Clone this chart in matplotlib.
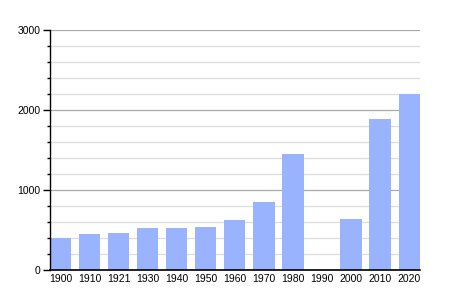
import matplotlib
matplotlib.use("Agg")
import matplotlib.pyplot as plt
from matplotlib.ticker import MultipleLocator

years = ["1900", "1910", "1921", "1930", "1940", "1950", "1960", "1970", "1980", "1990", "2000", "2010", "2020"]
population = [400, 455, 467, 529, 528, 540, 625, 854, 1450, None, 637, 1891, 2200]

plt.rcParams['font.family'] = ['Liberation Sans', 'DejaVu Sans']

fig = plt.figure(figsize=(4.5, 3), dpi=100)
ax = fig.add_axes([0.111, 0.1, 0.822, 0.8])

xs = list(range(len(years)))
vals = [v if v is not None else 0 for v in population]
bars = ax.bar(xs, vals, width=0.73, color="#99b3ff", zorder=3)
for b, v in zip(bars, population):
    if v is None:
        b.set_visible(False)

ax.set_xlim(-0.37, len(years) - 1 + 0.37)
ax.set_ylim(0, 3000)
ax.yaxis.set_major_locator(MultipleLocator(1000))
ax.yaxis.set_minor_locator(MultipleLocator(200))
ax.grid(which="major", axis="y", color="#aaaaaa", linewidth=0.9, zorder=0)
ax.grid(which="minor", axis="y", color="#dddddd", linewidth=0.9, zorder=0)
ax.set_xticks(xs)
ax.set_xticklabels(years)
ax.tick_params(axis="x", length=0, labelsize=7.5, pad=3)
ax.tick_params(axis="y", which="major", length=5, width=1, labelsize=7.5, pad=2)
ax.tick_params(axis="y", which="minor", length=2.5, width=1)
for s in ["top", "right"]:
    ax.spines[s].set_visible(False)
ax.spines["left"].set_linewidth(1)
ax.spines["bottom"].set_linewidth(1.2)
ax.spines["left"].set_zorder(4)
ax.spines["bottom"].set_zorder(4)

fig.savefig("out.png", dpi=100)
